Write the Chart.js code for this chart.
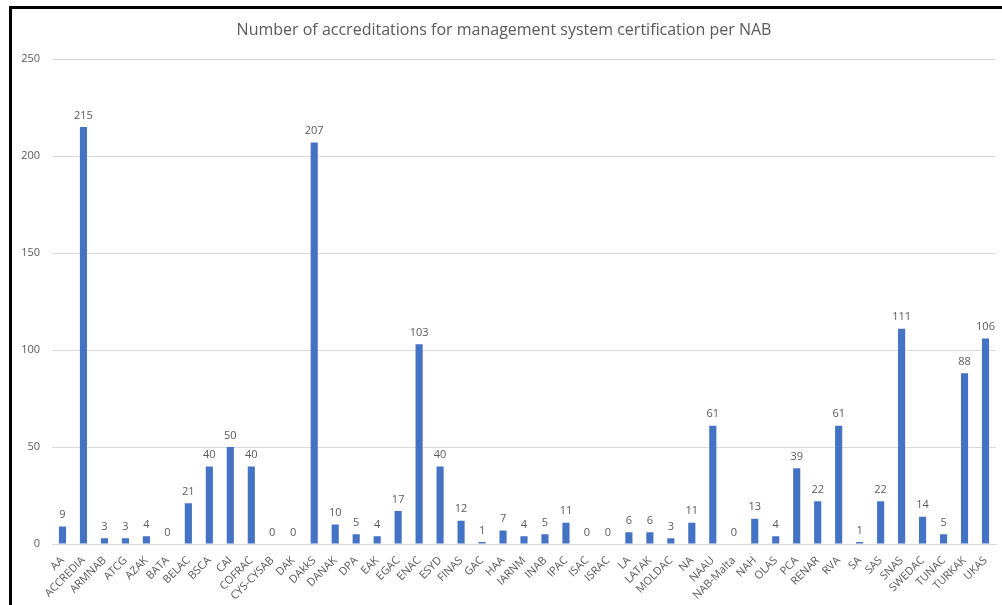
<!DOCTYPE html>
<html>
<head>
<meta charset="utf-8">
<script src="https://cdn.jsdelivr.net/npm/chart.js@4.4.1/dist/chart.umd.min.js"></script>
<style>
  html, body { margin: 0; padding: 0; background: #fff; overflow: hidden; }
  #frame {
    position: absolute; left: 9px; top: 6px; width: 1000px; height: 610px;
    border-left: 3px solid #000; border-top: 3px solid #000;
  }
  #wrap { position: absolute; left: 12px; top: 9px; width: 990px; height: 596px; }
</style>
</head>
<body>
<div id="frame"></div>
<div id="wrap"><canvas id="myChart"></canvas></div>
<script>
const labels = ['AA','ACCREDIA','ARMNAB','ATCG','AZAK','BATA','BELAC','BSCA','CAI','COFRAC',
  'CYS-CYSAB','DAK','DAkkS','DANAK','DPA','EAK','EGAC','ENAC','ESYD','FINAS',
  'GAC','HAA','IARNM','INAB','IPAC','ISAC','ISRAC','LA','LATAK','MOLDAC',
  'NA','NAAU','NAB-Malta','NAH','OLAS','PCA','RENAR','RVA','SA','SAS',
  'SNAS','SWEDAC','TUNAC','TURKAK','UKAS']
const accreditations = [9,215,3,3,4,0,21,40,50,40,
  0,0,207,10,5,4,17,103,40,12,
  1,7,4,5,11,0,0,6,6,3,
  11,61,0,13,4,39,22,61,1,22,
  111,14,5,88,106]
const yTicks = [0,50,100,150,200,250]

const fontFamily = '"Open Sans", "Noto Sans", sans-serif'
const grey = '#595959'

// value labels above each bar
const valueLabels = {
  id: 'valueLabels',
  afterDatasetsDraw(chart) {
    const ctx = chart.ctx
    const meta = chart.getDatasetMeta(0)
    ctx.save()
    ctx.font = '11px ' + fontFamily
    ctx.fillStyle = grey
    ctx.textAlign = 'center'
    ctx.textBaseline = 'bottom'
    meta.data.forEach((bar, i) => {
      ctx.fillText(String(accreditations[i]), bar.x, bar.y - 6)
    })
    ctx.restore()
  }
}

const grafico = document.querySelector('#myChart')

const data = {
  labels: labels,
  datasets: [{
    label: 'Accreditations',
    data: accreditations,
    backgroundColor: '#4472C4',
    barPercentage: 0.34,
    categoryPercentage: 1
  }]
}

const config = {
  type: 'bar',
  data: data,
  options: {
    responsive: true,
    maintainAspectRatio: false,
    animation: false,
    layout: { padding: { top: 0, right: 6, left: 0, bottom: 0 } },
    plugins: {
      legend: { display: false },
      tooltip: { enabled: false },
      title: {
        display: true,
        text: 'Number of accreditations for management system certification per NAB',
        color: grey,
        font: { family: fontFamily, size: 16, weight: 'normal' },
        padding: { top: 12, bottom: 19 }
      }
    },
    scales: {
      y: {
        min: 0,
        max: 250,
        afterBuildTicks(axis) { axis.ticks = yTicks.map(v => ({ value: v })) },
        afterFit(axis) { axis.width = 40 },
        ticks: { color: grey, font: { family: fontFamily, size: 11 }, padding: 12 },
        grid: { color: '#d9d9d9', drawTicks: false },
        border: { display: false }
      },
      x: {
        afterFit(axis) { axis.height = 61 },
        ticks: {
          color: grey, font: { family: fontFamily, size: 11 },
          minRotation: 45, maxRotation: 45, autoSkip: false, padding: 2
        },
        grid: { display: false },
        border: { color: '#d9d9d9' }
      }
    }
  },
  plugins: [valueLabels]
}

new Chart(grafico, config)
</script>
</body>
</html>
